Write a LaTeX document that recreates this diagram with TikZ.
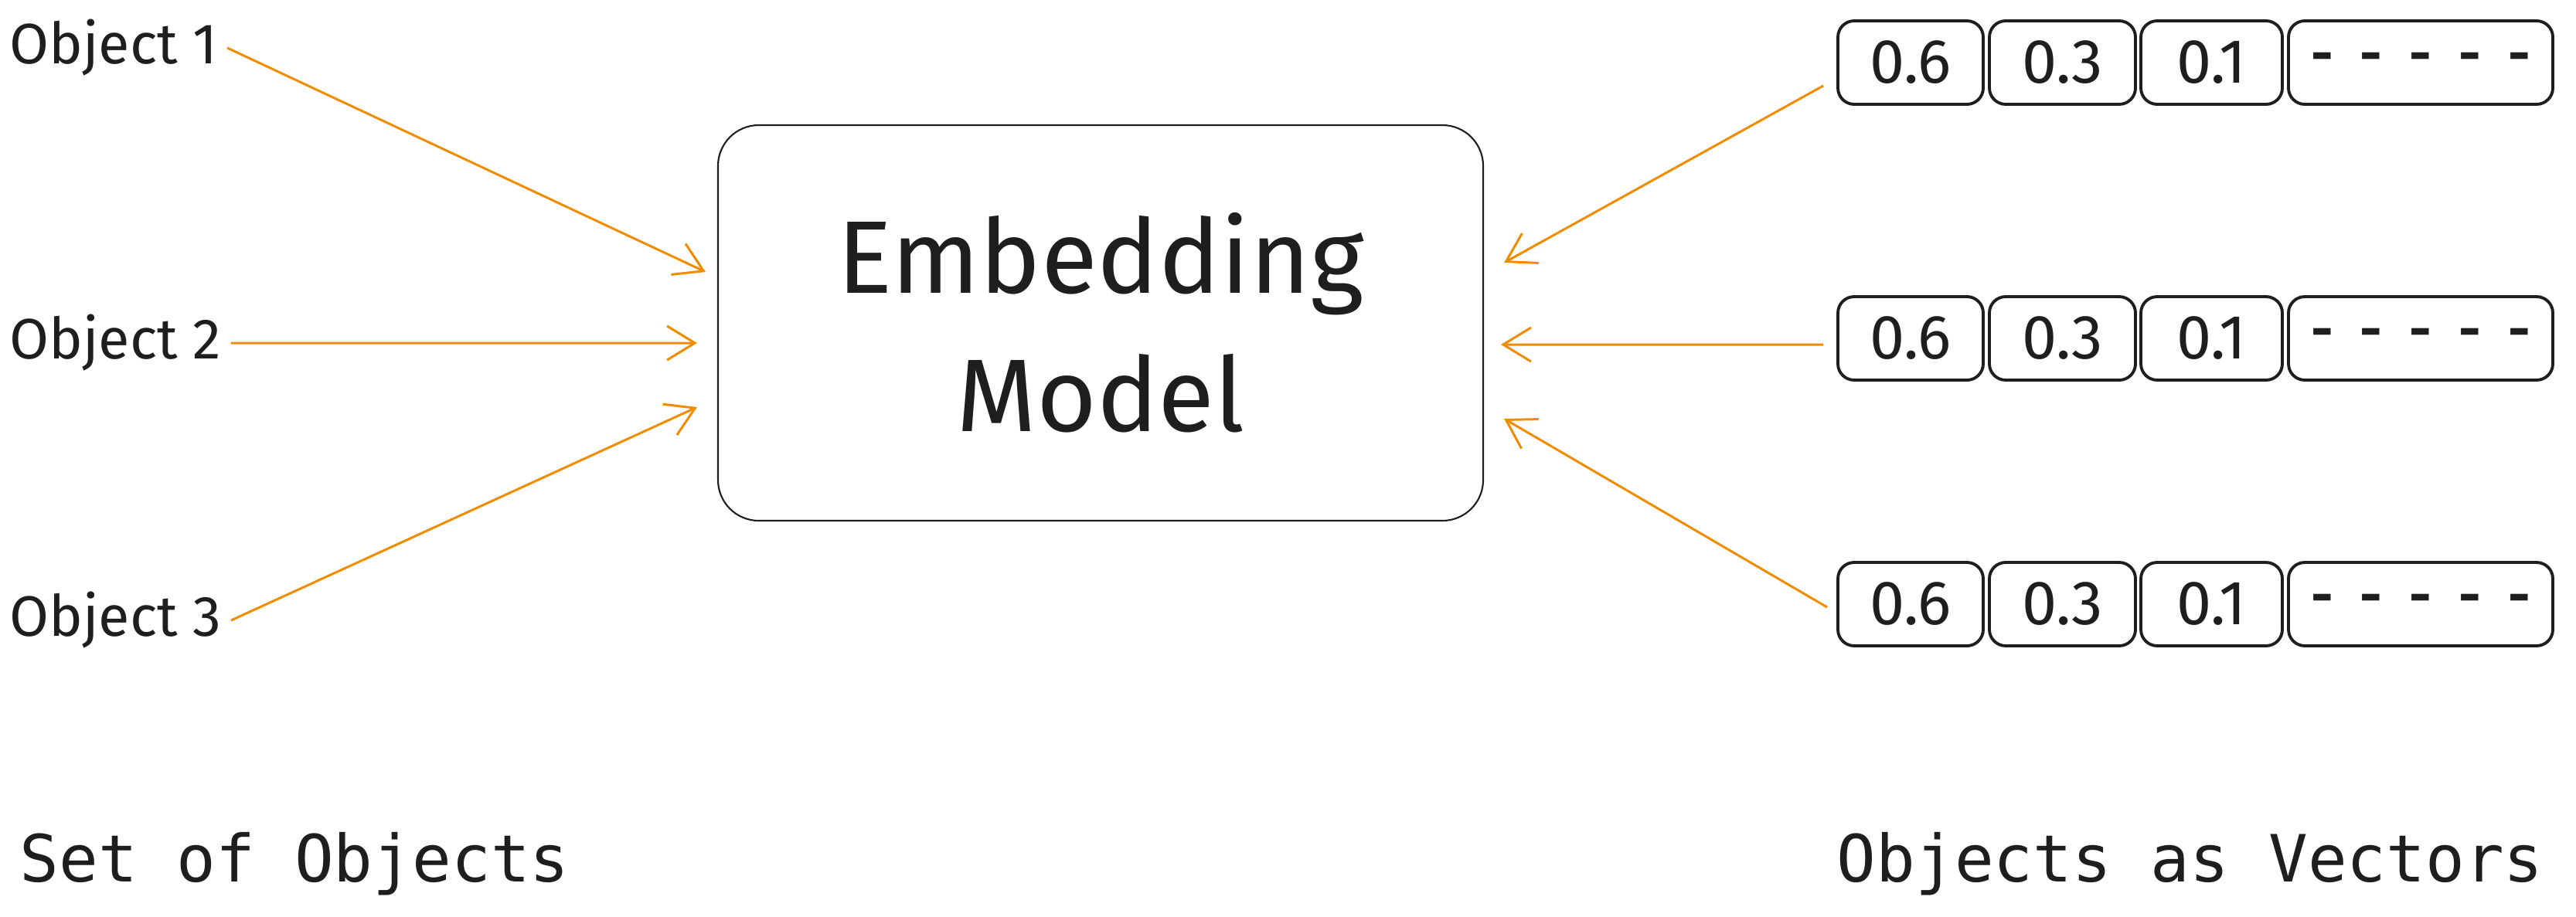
\documentclass[tikz,border=0pt]{standalone}
\usepackage{fontspec}
\setmainfont{Fira Sans}
\setmonofont{DejaVu Sans Mono}
\usetikzlibrary{arrows.meta, positioning, calc}
\definecolor{arroworange}{RGB}{240,140,0}
\definecolor{inkblack}{RGB}{30,30,30}

\begin{document}
\begin{tikzpicture}[
        objet/.style={anchor=west, font=\fontsize{21}{25}\selectfont, text=inkblack},
        modele/.style={rectangle, draw=inkblack, line width=0.6pt, rounded corners=15pt, minimum width=9.9cm,
                       minimum height=5.12cm, align=center, font=\fontsize{38}{51}\selectfont, text=inkblack},
        cell/.style={rectangle, draw=inkblack, line width=1.1pt, rounded corners=6pt, minimum height=1.08cm,
                     inner sep=0pt, font=\fontsize{23}{27}\selectfont, text=inkblack},
        tirets/.style={cell, font=\bfseries\fontsize{20}{24}\selectfont},
        legende/.style={anchor=base west, inner sep=0pt, font=\ttfamily\fontsize{24}{28}\selectfont, text=inkblack},
        arrow/.style={-{Straight Barb[length=3.6mm, width=4.4mm]}, line width=0.85pt, arroworange}
    ]
        \useasboundingbox (0,0) rectangle (33.33,-11.86);

        \node[objet] (obj1) at (0,-0.62) {Object 1};
        \node[objet] (obj2) at (0,-4.44) {Object 2};
        \node[objet] (obj3) at (0,-8.03) {Object 3};

        \node[modele] (model) at (14.24,-4.18) {Embedding\\Model};

        \node[cell, minimum width=1.88cm] (v1a) at (24.72,-0.81) {0.6};
        \node[cell, minimum width=1.89cm] (v1b) at (26.685,-0.81) {0.3};
        \node[cell, minimum width=1.83cm] (v1c) at (28.615,-0.81) {0.1};
        \node[tirets, minimum width=3.42cm] (v1d) at (31.32,-0.81) {\raisebox{-4pt}{-\hspace{.5em}-\hspace{.5em}-\hspace{.5em}-\hspace{.5em}-}};

        \node[cell, minimum width=1.88cm] (v2a) at (24.72,-4.38) {0.6};
        \node[cell, minimum width=1.89cm] (v2b) at (26.685,-4.38) {0.3};
        \node[cell, minimum width=1.83cm] (v2c) at (28.615,-4.38) {0.1};
        \node[tirets, minimum width=3.42cm] (v2d) at (31.32,-4.38) {\raisebox{-4pt}{-\hspace{.5em}-\hspace{.5em}-\hspace{.5em}-\hspace{.5em}-}};

        \node[cell, minimum width=1.88cm] (v3a) at (24.72,-7.82) {0.6};
        \node[cell, minimum width=1.89cm] (v3b) at (26.685,-7.82) {0.3};
        \node[cell, minimum width=1.83cm] (v3c) at (28.615,-7.82) {0.1};
        \node[tirets, minimum width=3.42cm] (v3d) at (31.32,-7.82) {\raisebox{-4pt}{-\hspace{.5em}-\hspace{.5em}-\hspace{.5em}-\hspace{.5em}-}};

        \node[legende] (setobj) at (0.25,-11.41) {Set of Objects};
        \node[legende] (asvec) at (23.76,-11.41) {Objects as Vectors};

        % Fleches: objets -> modele
        \draw[arrow] (obj1.east) -- ([xshift=-0.15cm, yshift=0.66cm]model.west);
        \draw[arrow] (obj2.east) -- ([xshift=-0.26cm, yshift=-0.26cm]model.west);
        \draw[arrow] (obj3.east) -- ([xshift=-0.26cm, yshift=-1.09cm]model.west);

        % Fleches: vecteurs -> modele
        \draw[arrow] ([xshift=-0.17cm, yshift=-0.30cm]v1a.west) -- ([xshift=0.26cm, yshift=0.78cm]model.east);
        \draw[arrow] ([xshift=-0.17cm, yshift=-0.08cm]v2a.west) -- ([xshift=0.22cm, yshift=-0.28cm]model.east);
        \draw[arrow] ([xshift=-0.12cm, yshift=-0.04cm]v3a.west) -- ([xshift=0.26cm, yshift=-1.24cm]model.east);
    \end{tikzpicture}
\end{document}
